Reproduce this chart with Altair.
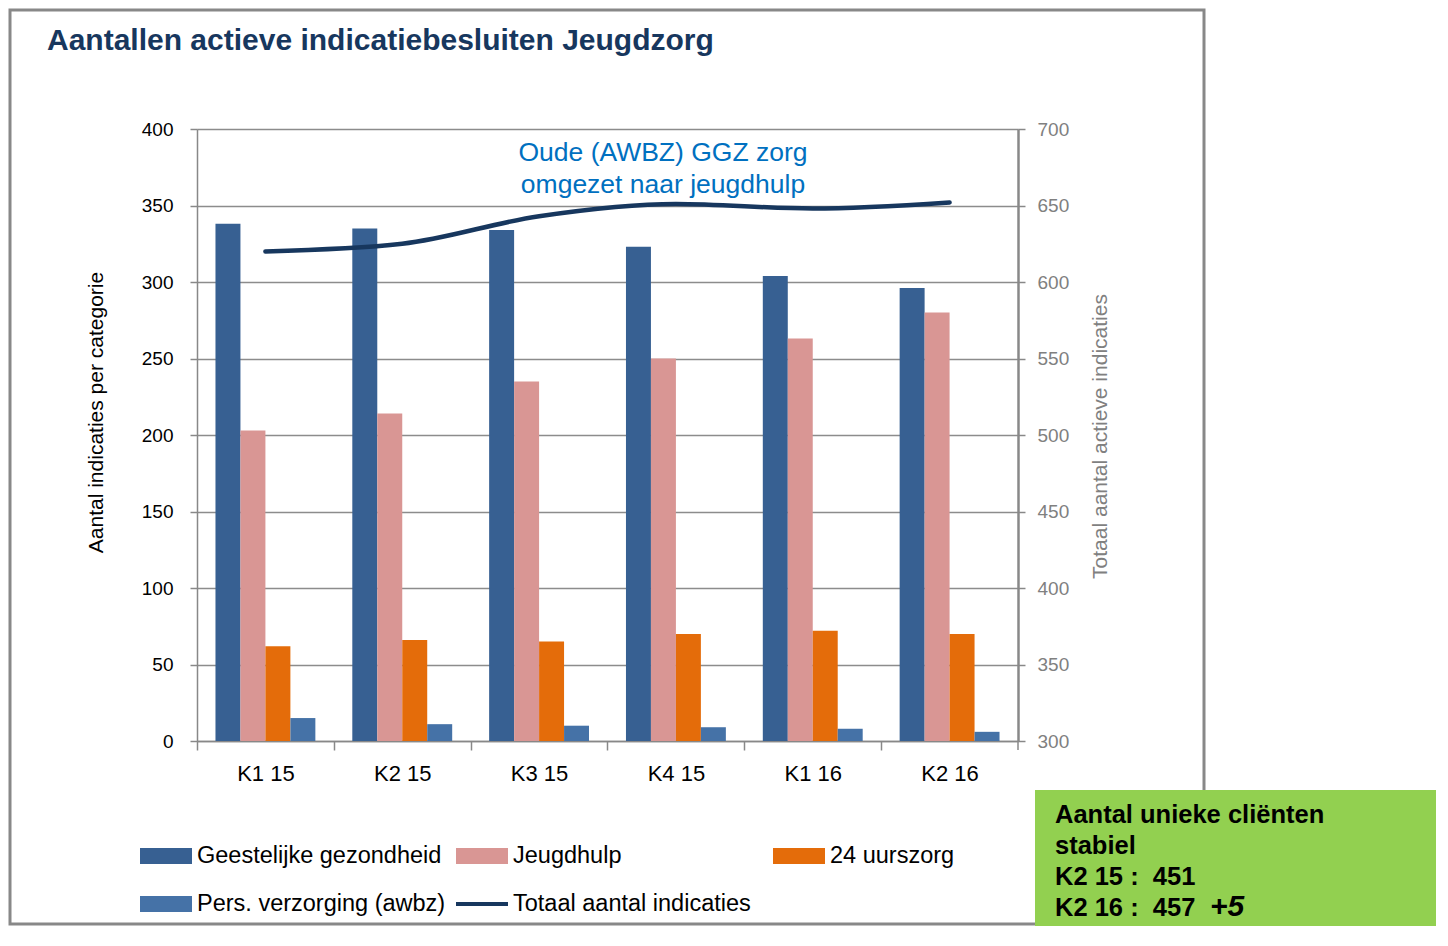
import altair as alt
import pandas as pd

quarters = ["K1 15", "K2 15", "K3 15", "K4 15", "K1 16", "K2 16"]
series = ["Geestelijke gezondheid", "Jeugdhulp", "24 uurszorg", "Pers. verzorging (awbz)"]
geestelijke = [338, 335, 334, 323, 304, 296]
jeugdhulp = [203, 214, 235, 250, 263, 280]
uurszorg = [62, 66, 65, 70, 72, 70]
verzorging = [15, 11, 10, 9, 8, 6]
totaal = [620, 625, 643, 651, 648, 652]
line_name = "Totaal aantal indicaties"
bar_colors = ["#376092", "#D99694", "#E46C0A", "#4572A7"]
line_color = "#17375E"
title_text = "Aantallen actieve indicatiebesluiten Jeugdzorg"
note_lines = ["Oude (AWBZ) GGZ zorg", "omgezet naar jeugdhulp"]
box_lines = ["Aantal unieke cliënten", "stabiel",
             "K2 15 :\u00a0\u00a0451", "K2 16 :\u00a0\u00a0457"]
box_extra = "+5"
left_title = "Aantal indicaties per categorie"
right_title = "Totaal aantal actieve indicaties"

FONT = "Liberation Sans"
W, H = 821, 612
HALF_STEP = W / len(quarters) / 2

rows = []
for s, vals in zip(series, [geestelijke, jeugdhulp, uurszorg, verzorging]):
    for q, v in zip(quarters, vals):
        rows.append({"quarter": q, "series": s, "value": v})
bars_df = pd.DataFrame(rows)
line_df = pd.DataFrame({"quarter": quarters, "totaal": totaal})

x_scale = alt.Scale(domain=quarters, paddingInner=0.27, paddingOuter=0.135)
x_axis = alt.Axis(title=None, labelFontSize=22, labelColor="black", labelFont=FONT,
                  labelAngle=0, tickSize=9, tickColor="#888888",
                  tickWidth=1.5, domainColor="#888888", domainWidth=1.5,
                  tickOffset=-HALF_STEP, labelOffset=HALF_STEP,
                  labelPadding=13, grid=False)

bars = alt.Chart(bars_df).mark_bar().encode(
    x=alt.X("quarter:N", sort=quarters, scale=x_scale, axis=x_axis),
    xOffset=alt.XOffset("series:N", sort=series, scale=alt.Scale(domain=series)),
    y=alt.Y("value:Q", scale=alt.Scale(domain=[0, 400], nice=False),
            axis=alt.Axis(title=left_title, values=list(range(0, 401, 50)),
                          labelFontSize=19, labelColor="black", labelFont=FONT,
                          labelPadding=17, tickSize=7, tickColor="#888888", tickWidth=1.5,
                          domainColor="#888888", domainWidth=1.5,
                          grid=True, gridColor="#8c8c8c", gridWidth=1.3,
                          titleFontSize=21, titleFontWeight="normal", titleColor="black",
                          titleFont=FONT, titleX=-101, titleY=283, titleBaseline="middle",
                          titleAngle=270)),
    color=alt.Color("series:N", sort=series,
                    scale=alt.Scale(domain=series, range=bar_colors), legend=None),
)

line = alt.Chart(line_df).mark_line(interpolate="monotone", strokeWidth=4.5,
                                    color=line_color, strokeCap="round").encode(
    x=alt.X("quarter:N", sort=quarters, scale=x_scale, axis=x_axis),
    y=alt.Y("totaal:Q", scale=alt.Scale(domain=[300, 700], nice=False),
            axis=alt.Axis(title=right_title, orient="right", values=list(range(300, 701, 50)),
                          labelFontSize=19, labelColor="#808080", labelFont=FONT,
                          labelPadding=12, tickSize=7, tickColor="#888888", tickWidth=1.5,
                          domainColor="#888888", domainWidth=2.5, grid=False,
                          titleFontSize=21, titleFontWeight="normal", titleColor="#808080",
                          titleFont=FONT, titleX=82, titleY=307, titleBaseline="middle",
                          titleAngle=270)),
)

one = alt.Data(values=[{}])
layers = []

# outer frame
layers.append(alt.Chart(one).mark_rect(fill=None, stroke="#888888", strokeWidth=3).encode(
    x=alt.value(-187), x2=alt.value(1007), y=alt.value(-119), y2=alt.value(795)))

# closing x-axis tick at the right end
layers.append(alt.Chart(one).mark_rule(color="#888888", strokeWidth=1.5).encode(
    x=alt.value(W), y=alt.value(H), y2=alt.value(H + 9)))

# title
layers.append(alt.Chart(one).mark_text(text=title_text, align="left", baseline="alphabetic",
                                       font=FONT, fontSize=30, fontWeight="bold",
                                       color=line_color).encode(
    x=alt.value(-150), y=alt.value(-79)))

# annotation
for i, t in enumerate(note_lines):
    layers.append(alt.Chart(one).mark_text(text=t, align="center", baseline="middle",
                                           font=FONT, fontSize=26.5, color="#0070C0").encode(
        x=alt.value(466), y=alt.value(24 + 32 * i)))

# legend (manual, Excel-like layout)
leg_pos = [(-57, 727), (259, 727), (576, 727), (-57, 775)]
for s, c, (lx, ly) in zip(series, bar_colors, leg_pos):
    layers.append(alt.Chart(one).mark_rect(color=c).encode(
        x=alt.value(lx), x2=alt.value(lx + 52), y=alt.value(ly - 8), y2=alt.value(ly + 8)))
    layers.append(alt.Chart(one).mark_text(text=s, align="left", baseline="middle",
                                           font=FONT, fontSize=23.5, color="black").encode(
        x=alt.value(lx + 57), y=alt.value(ly)))
layers.append(alt.Chart(one).mark_rule(color=line_color, strokeWidth=4).encode(
    x=alt.value(259), x2=alt.value(311), y=alt.value(775)))
layers.append(alt.Chart(one).mark_text(text=line_name, align="left", baseline="middle",
                                       font=FONT, fontSize=23.5, color="black").encode(
    x=alt.value(316), y=alt.value(775)))

# green note box
layers.append(alt.Chart(one).mark_rect(fill="#92D050").encode(
    x=alt.value(838), x2=alt.value(1239), y=alt.value(661), y2=alt.value(797)))
for i, t in enumerate(box_lines):
    layers.append(alt.Chart(one).mark_text(text=t, align="left", baseline="alphabetic",
                                           font=FONT, fontSize=25.5, fontWeight="bold",
                                           color="black").encode(
        x=alt.value(858), y=alt.value(694 + 31 * i)))
layers.append(alt.Chart(one).mark_text(text=box_extra, align="left", baseline="alphabetic",
                                       font=FONT, fontSize=30, fontWeight="bold",
                                       fontStyle="italic", color="black").encode(
    x=alt.value(1013), y=alt.value(787)))

chart = alt.layer(bars, line, *layers).resolve_scale(y="independent").properties(
    width=W, height=H,
    padding={"left": 189, "top": 121, "right": 418, "bottom": 185},
    autosize=alt.AutoSizeParams(type="none"),
).configure_view(strokeWidth=0).configure(background="white")

chart.save("out.html", embed_options={"renderer": "svg", "actions": False})
